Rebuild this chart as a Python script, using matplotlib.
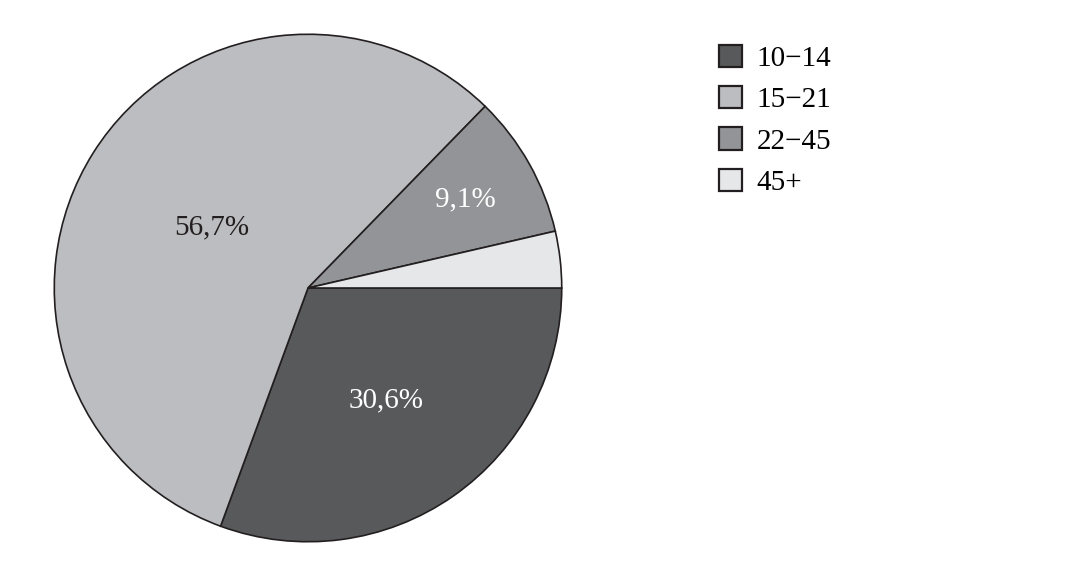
import numpy as np
import matplotlib.pyplot as plt

# age groups and shares (%)
groups = ['10−14', '15−21', '22−45', '45+']
shares = [30.6, 56.7, 9.1, 3.6]
shown = ['30,6%', '56,7%', '9,1%', '']
colors = ['#58595b', '#bcbdc0', '#929497', '#e6e7e8']
text_colors = ['white', '#231f20', 'white', 'white']
label_r = [0.54, 0.45, 0.71, 0.8]

plt.rcParams['font.family'] = ['Liberation Serif', 'DejaVu Serif']

fig = plt.figure(figsize=(10.74, 5.65), dpi=100)
ax = fig.add_axes([53 / 1074, 22 / 565, 510 / 1074, 510 / 565])

wedges, _ = ax.pie(shares, colors=colors, startangle=0, counterclock=False,
                   radius=1, wedgeprops=dict(edgecolor='#231f20', linewidth=1.2))
ax.set_xlim(-1.005, 1.005)
ax.set_ylim(-1.005, 1.005)
ax.set_aspect('equal')

for w, lab, c, r in zip(wedges, shown, text_colors, label_r):
    mid = np.deg2rad((w.theta1 + w.theta2) / 2)
    ax.text(r * np.cos(mid), r * np.sin(mid), lab, color=c, fontsize=21,
            ha='center', va='center')

leg = fig.legend(wedges, groups, loc='upper left',
                 bbox_to_anchor=(707 / 1074, 1 - 33 / 565),
                 frameon=False, fontsize=21, handlelength=0.8,
                 handleheight=0.8, handletextpad=0.5, labelspacing=0.48,
                 borderaxespad=0)
for h in leg.legend_handles:
    h.set_linewidth(1.6)

fig.savefig('out.png', dpi=100)
